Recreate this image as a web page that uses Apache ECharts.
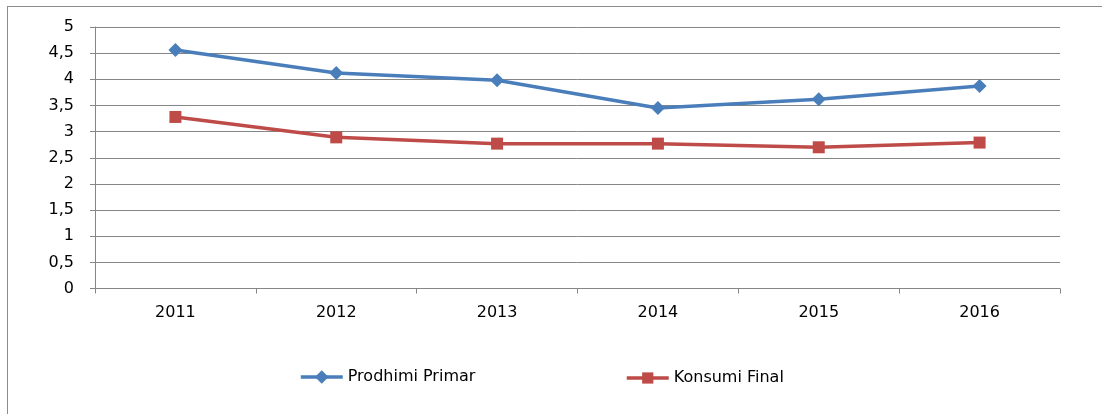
<!DOCTYPE html>
<html lang="sq">
<head>
    <meta charset="UTF-8">
    <title>Prodhimi Primar / Konsumi Final</title>
    <script src="https://cdn.jsdelivr.net/npm/echarts@6/dist/echarts.min.js"></script>
    <style>
        body { margin: 0; background: #fff; }
        #frame { position: absolute; left: 7px; top: 6px; width: 1100px; height: 410px; border: 1px solid #8c8c8c; box-sizing: border-box; }
        #main { position: absolute; left: 0; top: 0; width: 1102px; height: 414px; }
    </style>
</head>
<body>
    <div id="frame"></div>
    <div id="main"></div>
<script type="text/javascript">
    // vitet
    var years = ['2011', '2012', '2013', '2014', '2015', '2016'];
    // vlerat e lexuara nga grafiku
    var prodhimi = [4.56, 4.12, 3.98, 3.45, 3.62, 3.87];
    var konsumi = [3.28, 2.89, 2.77, 2.77, 2.70, 2.79];
    var seriesNames = ['Prodhimi Primar', 'Konsumi Final'];

    var font = 'DejaVu Sans';
    var legendStyle = {
        padding: 0,
        itemWidth: 42,
        lineStyle: { width: 3.5 },
        textStyle: { fontFamily: font, fontSize: 16, color: '#000' }
    };
    var myChart = echarts.init(document.getElementById('main'));
    myChart.setOption({
        animation: false,
        textStyle: { fontFamily: font },
        legend: [
            Object.assign({ data: [seriesNames[0]], left: 299, top: 369, itemHeight: 17 }, legendStyle),
            Object.assign({ data: [seriesNames[1]], left: 625, top: 370, itemHeight: 14 }, legendStyle)
        ],
        grid: { left: 95, right: 42, top: 27, bottom: 125.5 },
        xAxis: {
            type: 'category',
            data: years,
            boundaryGap: true,
            axisLine: { lineStyle: { color: '#868686', width: 1 } },
            axisTick: { show: true, length: 5, lineStyle: { color: '#868686' } },
            axisLabel: { color: '#000', fontSize: 16, margin: 16, fontFamily: font }
        },
        yAxis: {
            type: 'value',
            min: 0, max: 5, interval: 0.5,
            axisLine: { show: true, lineStyle: { color: '#868686', width: 1 } },
            axisTick: { show: true, length: 5, lineStyle: { color: '#868686' } },
            splitLine: { lineStyle: { color: '#868686', width: 1 } },
            axisLabel: {
                color: '#000', fontSize: 16, margin: 21, fontFamily: font,
                formatter: function (v) { return String(v).replace('.', ','); }
            }
        },
        series: [{
            name: seriesNames[0],
            type: 'line',
            data: prodhimi,
            symbol: 'diamond',
            symbolSize: 14,
            color: '#4A7EBB',
            lineStyle: { width: 3.5, color: '#4A7EBB' },
            itemStyle: { color: '#4A7EBB' }
        }, {
            name: seriesNames[1],
            type: 'line',
            data: konsumi,
            symbol: 'rect',
            symbolSize: 12,
            color: '#BE4B48',
            lineStyle: { width: 3.5, color: '#BE4B48' },
            itemStyle: { color: '#BE4B48' }
        }]
    });
</script>
</body>
</html>
